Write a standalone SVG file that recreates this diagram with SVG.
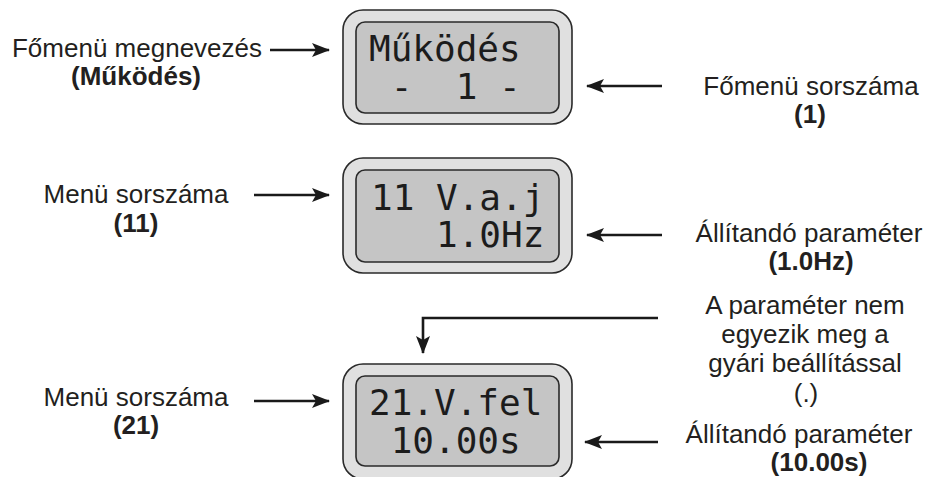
<svg xmlns="http://www.w3.org/2000/svg" width="930" height="477" viewBox="0 0 930 477">
<style>
.outer{fill:#e0e0e0;stroke:#2a2a2a;stroke-width:1.6}
.inner{fill:#c5c5c5;stroke:#2a2a2a;stroke-width:1.6}
.lcd{font-family:"DejaVu Sans Mono","Liberation Mono",monospace;font-size:36px;fill:#1c1c1c;white-space:pre}
.lbl{font-family:"Liberation Sans",Arial,sans-serif;font-size:26px;fill:#231f20;text-anchor:middle}
.b{font-weight:bold}
.arr{fill:none;stroke:#1a1a1a;stroke-width:2.6}
</style>
<defs>
<marker id="ah" markerUnits="userSpaceOnUse" markerWidth="18" markerHeight="14" viewBox="0 0 18 14" refX="17" refY="7" orient="auto">
<path d="M0,0 L18,7 L0,14 L4,7 z" fill="#1a1a1a"/>
</marker>
</defs>
<g id="display1">
<rect class="outer" x="343" y="10" width="229" height="114" rx="20"/>
<rect class="inner" x="356" y="22" width="203" height="91" rx="9"/>
<text class="lcd" x="369" y="61" xml:space="preserve">Működés</text>
<text class="lcd" x="369" y="99" xml:space="preserve"> -  1 -</text>
</g>
<g id="display2">
<rect class="outer" x="343" y="158" width="229" height="115" rx="20"/>
<rect class="inner" x="356" y="170" width="203" height="92" rx="9"/>
<text class="lcd" x="371" y="210" xml:space="preserve">11 V.a.j</text>
<text class="lcd" x="371" y="247" xml:space="preserve">   1.0Hz</text>
</g>
<g id="display3">
<rect class="outer" x="343" y="364" width="229" height="115" rx="20"/>
<rect class="inner" x="356" y="376" width="203" height="90" rx="9"/>
<text class="lcd" x="369" y="415" xml:space="preserve">21.V.fel</text>
<text class="lcd" x="369" y="453" xml:space="preserve"> 10.00s</text>
</g>
<g id="label-fomenu-nev">
<text class="lbl" x="137" y="57">Főmenü megnevezés</text>
<text class="lbl b" x="136" y="85">(Működés)</text>
</g>
<g id="label-fomenu-sorszam">
<text class="lbl" x="811" y="95">Főmenü sorszáma</text>
<text class="lbl b" x="810" y="123">(1)</text>
</g>
<g id="label-menu11">
<text class="lbl" x="136" y="203">Menü sorszáma</text>
<text class="lbl b" x="136" y="232">(11)</text>
</g>
<g id="label-param1">
<text class="lbl" x="809" y="242">Állítandó paraméter</text>
<text class="lbl b" x="811" y="270">(1.0Hz)</text>
</g>
<g id="label-gyari">
<text class="lbl" x="805" y="314">A paraméter nem</text>
<text class="lbl" x="805" y="343">egyezik meg a</text>
<text class="lbl" x="805" y="372">gyári beállítással</text>
<text class="lbl" x="806" y="402">(.)</text>
</g>
<g id="label-menu21">
<text class="lbl" x="136" y="406">Menü sorszáma</text>
<text class="lbl b" x="136" y="434">(21)</text>
</g>
<g id="label-param2">
<text class="lbl" x="799" y="443">Állítandó paraméter</text>
<text class="lbl b" x="819" y="471">(10.00s)</text>
</g>
<g id="connectors">
<path class="arr" d="M270,50 H329" marker-end="url(#ah)"/>
<path class="arr" d="M662,86 H587" marker-end="url(#ah)"/>
<path class="arr" d="M254,195 H329" marker-end="url(#ah)"/>
<path class="arr" d="M662,235 H587" marker-end="url(#ah)"/>
<path class="arr" d="M658,318 H423 V353" marker-end="url(#ah)"/>
<path class="arr" d="M254,401 H329" marker-end="url(#ah)"/>
<path class="arr" d="M658,442 H585" marker-end="url(#ah)"/>
</g>
</svg>
